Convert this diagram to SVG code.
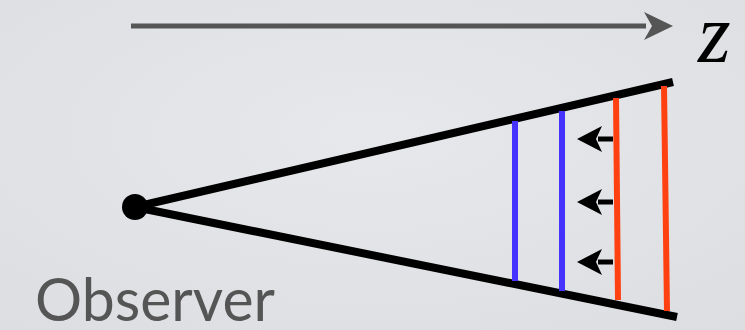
<svg xmlns="http://www.w3.org/2000/svg" width="745" height="330" viewBox="0 0 745 330">
<defs>
<radialGradient id="bg" cx="50%" cy="40%" r="75%">
<stop offset="0" stop-color="#e6e8eb"/>
<stop offset="1" stop-color="#dcdee1"/>
</radialGradient>
<style>
.fan{stroke:#000;stroke-width:8;fill:none;stroke-linecap:butt}
.blue{stroke:#4433ff;stroke-width:6}
.red{stroke:#ff4011;stroke-width:6}
.move{stroke:#000;stroke-width:5;fill:none}
.head{fill:#000}
.label{font-family:Lato,"Open Sans",sans-serif;fill:#555}
</style>
</defs>
<rect width="745" height="330" fill="url(#bg)"/>
<g id="axis">
<line x1="131" y1="26" x2="646" y2="26" stroke="#555" stroke-width="5"/>
<path d="M673,26 L644,12 L652,26 L644,40 Z" fill="#555"/>
<text x="698" y="62" font-family="'Liberation Serif','DejaVu Serif',serif" font-style="italic" font-size="84" fill="#000">z</text>
</g>
<g id="frustum">
<line class="fan" x1="135" y1="207" x2="673" y2="82"/>
<line class="fan" x1="135" y1="207" x2="677" y2="317"/>
</g>
<g id="observer">
<circle cx="135" cy="207" r="13" fill="#000"/>
<text class="label" x="35" y="321" font-size="60" textLength="240" lengthAdjust="spacingAndGlyphs">Observer</text>
</g>
<g id="planes">
<line class="blue" x1="515" y1="121" x2="515" y2="281"/>
<line class="blue" x1="562" y1="111" x2="562" y2="291"/>
<line class="red" x1="616" y1="98" x2="618" y2="300"/>
<line class="red" x1="664" y1="86" x2="667" y2="311"/>
</g>
<g id="connectors">
<line class="move" x1="613" y1="139" x2="598" y2="139"/>
<path class="head" d="M577,139 L602,126 L596,139 L602,152 Z"/>
<line class="move" x1="613" y1="202" x2="598" y2="202"/>
<path class="head" d="M577,202 L602,189 L596,202 L602,215 Z"/>
<line class="move" x1="613" y1="262" x2="598" y2="262"/>
<path class="head" d="M577,262 L602,249 L596,262 L602,275 Z"/>
</g>
</svg>
